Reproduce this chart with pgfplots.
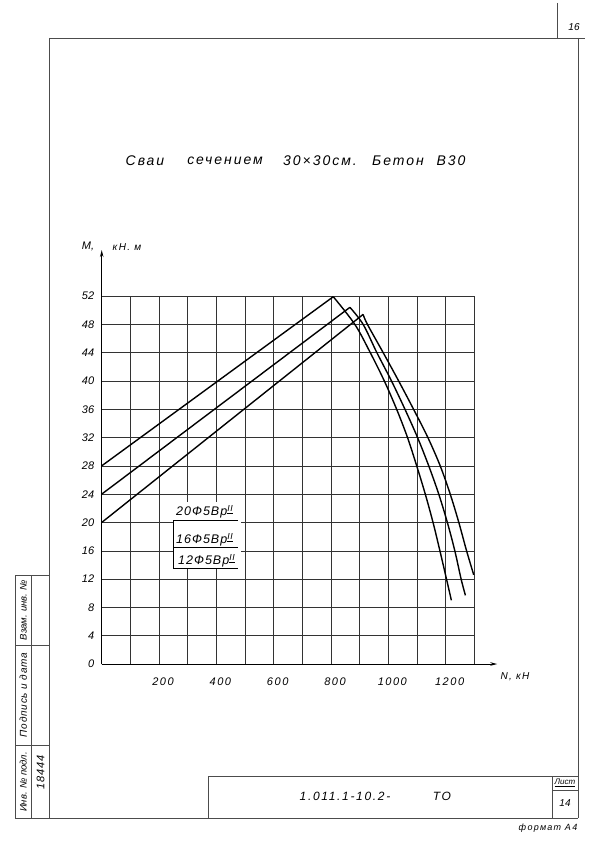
\documentclass[border=0pt]{standalone}
\usepackage{fontspec}
\setmainfont{Liberation Sans}
\usepackage{pgfplots}
\pgfplotsset{compat=1.18}
\usetikzlibrary{arrows.meta}
\newfontfamily\hand{Liberation Sans}
\newfontfamily\handsp[LetterSpace=14]{Liberation Sans}
\newfontfamily\handlab[LetterSpace=8]{Liberation Sans}
\begin{document}
\begin{tikzpicture}[x=1pt,y=-1pt]
\fill[white] (0,0) rectangle (600,848);
% page frame
\begin{scope}[line width=0.9pt, black!70]
\draw (49,38) -- (585,38);
\draw (49,38) -- (49,818);
\draw (578,38) -- (578,818);
\draw (15,818) -- (578,818);
\draw (557.5,3) -- (557.5,38);
\draw (208,818) -- (208,776) -- (578,776);
\draw (552,776) -- (552,818);
\draw (552,790) -- (578,790);
\draw (15,575) rectangle (49,818);
\draw (31.7,575) -- (31.7,818);
\draw (15,645) -- (49,645);
\draw (15,745) -- (49,745);
\end{scope}
\node[font=\hand\itshape\fontsize{10}{10}\selectfont] at (574,27) {16};
% stamp
\node[rotate=90, font=\hand\itshape\fontsize{9.5}{9.5}\selectfont] at (23.3,610) {Взам. инв. №};
\node[rotate=90, font=\handlab\itshape\fontsize{10}{10}\selectfont] at (23.3,695) {Подпись и дата};
\node[rotate=90, font=\hand\itshape\fontsize{9.5}{9.5}\selectfont] at (23.3,782) {Инв. № подл.};
\node[rotate=90, font=\handlab\itshape\fontsize{11}{11}\selectfont] at (40.5,772) {18444};
% title block
\node[font=\handsp\itshape\fontsize{12}{12}\selectfont] at (345,796) {1.011.1-10.2-};
\node[font=\handsp\itshape\fontsize{12}{12}\selectfont] at (442,796) {ТО};
\node[font=\hand\itshape\fontsize{8}{8}\selectfont] at (565,783) {\underline{Лист}};
\node[font=\hand\itshape\fontsize{10}{10}\selectfont] at (565,803) {14};
\node[font=\handsp\itshape\fontsize{9}{9}\selectfont] at (548,828) {формат А4};
% title
\begin{scope}[every node/.style={font=\handsp\itshape\fontsize{14}{14}\selectfont}]
\node at (145,161) {Сваи};
\node at (225,161) {сечением};
\node at (320,161) {30×30см.};
\node at (398,161) {Бетон};
\node at (451,161) {В30};
\end{scope}
\begin{axis}[at={(101.7pt,-664pt)}, anchor=south west, scale only axis,
  width=372.6pt, height=368pt,
  xmin=0, xmax=1300, ymin=0, ymax=52, clip=false,
  axis line style={draw=none}, tick style={draw=none},
  xtick={0,100,...,1300},
  xticklabels={,,200,,400,,600,,800,,1000,,1200,},
  ytick={0,4,...,52},
  yticklabels={0,4,8,12,16,20,24,28,32,36,40,44,48,52},
  /pgf/number format/assume math mode=true,
  grid=major, major grid style={black!80, line width=0.55pt},
  xticklabel style={font=\handsp\itshape\fontsize{11}{11}\selectfont, anchor=center, yshift=-17.5pt, xshift=4pt},
  yticklabel style={font=\hand\itshape\fontsize{11}{11}\selectfont, anchor=east, xshift=-4pt},
]
% 20 F5 Bp II
\addplot[black, line width=1.4pt] coordinates {(0,28) (808,51.9)};
\addplot[black, line width=1.4pt, smooth, tension=0.55] coordinates {
 (808,51.9) (883,48) (937,44) (986,40) (1029,36) (1067,32) (1099,28)
 (1129,24) (1156,20) (1180,16) (1203,12) (1220,9)};
% 16 F5 Bp II
\addplot[black, line width=1.4pt] coordinates {(0,24) (866,50.4)};
\addplot[black, line width=1.4pt, smooth, tension=0.55] coordinates {
 (866,50.4) (912,48) (960,44) (1011,40) (1058,36) (1102,32) (1141,28)
 (1176,24) (1206,20) (1232,16) (1254,12) (1269,9.7)};
% 12 F5 Bp II
\addplot[black, line width=1.4pt] coordinates {(0,20) (912,49.4)};
\addplot[black, line width=1.4pt, smooth, tension=0.55] coordinates {
 (912,49.4) (927,48) (982,44) (1036,40) (1088,36) (1138,32) (1181,28)
 (1216,24) (1246,20) (1273,16) (1298,12.6)};
\draw[line width=1pt, -{Stealth[length=7pt,width=3.5pt]}] (axis cs:0,0) -- (axis cs:0,58.5);
\draw[line width=1pt, -{Stealth[length=7pt,width=3.5pt]}] (axis cs:0,0) -- (axis cs:1380,0);
\end{axis}
% axis labels
\node[font=\hand\itshape\fontsize{11}{11}\selectfont] at (88,246) {M,};
\node[font=\handsp\itshape\fontsize{10}{10}\selectfont] at (127,247) {кН. м};
\node[font=\handsp\itshape\fontsize{10}{10}\selectfont] at (515,677) {N, кН};
% curve labels
\fill[white] (174,502) rectangle (241,569);
\begin{scope}[every node/.style={anchor=west, font=\handlab\itshape\fontsize{12.5}{12.5}\selectfont, inner sep=0pt}]
\node at (176,512) {20Ф5Вр\textsuperscript{\underline{II}}};
\node at (176,540) {16Ф5Вр\textsuperscript{\underline{II}}};
\node at (178,561) {12Ф5Вр\textsuperscript{\underline{II}}};
\end{scope}
\draw[line width=0.7pt] (173,520) -- (238,520);
\draw[line width=0.7pt] (173,547) -- (238,547);
\draw[line width=0.7pt] (173,568) -- (238,568);
\draw[line width=0.7pt] (173,520) -- (173,568);
\end{tikzpicture}
\end{document}
